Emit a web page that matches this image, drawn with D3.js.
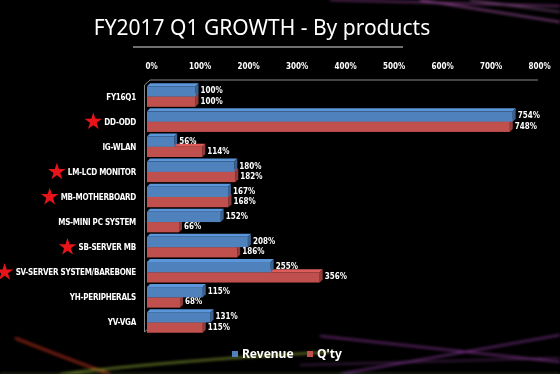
<!DOCTYPE html>
<html>
<head>
<meta charset="utf-8">
<script src="https://cdn.jsdelivr.net/npm/d3@7"></script>
<style>
  html, body { margin: 0; padding: 0; background: #000; }
  svg { display: block; }
</style>
</head>
<body>
<div id="chart"></div>
<script>
(function(){
    'use strict';

    // chart data
    var categories = ["FY16Q1", "DD-ODD", "IG-WLAN", "LM-LCD MONITOR", "MB-MOTHERBOARD",
        "MS-MINI PC SYSTEM", "SB-SERVER MB", "SV-SERVER SYSTEM/BAREBONE", "YH-PERIPHERALS", "YV-VGA"];
    var revenue = [100, 754, 56, 180, 167, 152, 208, 255, 115, 131];
    var qty = [100, 748, 114, 182, 168, 66, 186, 356, 68, 115];
    var starred = ["DD-ODD", "LM-LCD MONITOR", "MB-MOTHERBOARD", "SB-SERVER MB", "SV-SERVER SYSTEM/BAREBONE"];
    var tickValues = [0, 100, 200, 300, 400, 500, 600, 700, 800];
    var seriesNames = ["Revenue", "Q'ty"];

    var width = 560, height = 374;
    var blue = "#4f81bd", red = "#c0504d";
    var depth = 3;
    var labelFont = "'DejaVu Sans Condensed', 'DejaVu Sans', sans-serif";

    var svg = d3.select("#chart").append("svg")
        .attr("width", width)
        .attr("height", height);

    var defs = svg.append("defs");
    defs.append("filter").attr("id", "glow")
        .attr("x", "-20%").attr("y", "-50%").attr("width", "140%").attr("height", "200%")
        .append("feGaussianBlur").attr("stdDeviation", 1.6);

    svg.append("rect").attr("width", width).attr("height", height).attr("fill", "#000");

    // background light streaks
    var bg = svg.append("g").attr("filter", "url(#glow)");
    var streaks = [
        {d: "M330,0 L560,6", c: "#b04fb0", w: 1.5, o: 0.7},
        {d: "M420,0 L560,22", c: "#c060c0", w: 1.5, o: 0.8},
        {d: "M470,0 L560,12", c: "#d080d0", w: 1, o: 0.8},
        {d: "M320,336 L560,362", c: "#a040b0", w: 1.5, o: 0.8},
        {d: "M340,374 L560,335", c: "#9a3fb0", w: 1.5, o: 0.8},
        {d: "M300,365 L560,358", c: "#b050c0", w: 1, o: 0.6},
        {d: "M15,338 Q70,360 110,374", c: "#c03020", w: 2.5, o: 0.7},
        {d: "M60,374 Q180,360 330,352", c: "#b0d040", w: 1.5, o: 0.8},
        {d: "M0,374 L560,374", c: "#506030", w: 2, o: 0.5}
    ];
    bg.selectAll("path").data(streaks).enter().append("path")
        .attr("d", function(s) { return s.d; })
        .attr("fill", "none")
        .attr("stroke", function(s) { return s.c; })
        .attr("stroke-width", function(s) { return s.w; })
        .attr("opacity", function(s) { return s.o; });

    // title
    svg.append("text")
        .attr("x", 262).attr("y", 35)
        .attr("text-anchor", "middle")
        .attr("fill", "#fff")
        .style("font-family", "'Noto Sans', 'Open Sans', sans-serif")
        .style("font-size", "21px")
        .text("FY2017 Q1 GROWTH - By products");
    svg.append("line")
        .attr("x1", 133).attr("x2", 403).attr("y1", 47).attr("y2", 47)
        .attr("stroke", "#ddd").attr("stroke-width", 1);

    // scales
    var x = d3.scaleLinear().domain([0, 800]).range([147, 535]);
    var y = d3.scaleBand().domain(categories).range([85, 334]).paddingInner(0.18).paddingOuter(0.05);
    var sub = d3.scaleBand().domain(seriesNames).range([0, y.bandwidth()]);

    // frame (3D wall edges)
    var frame = svg.append("g").attr("stroke", "#888").attr("fill", "none").attr("stroke-width", 1);
    frame.append("path").attr("d", "M144.5,85 L150,80 L538,80");
    frame.append("path").attr("d", "M144.5,85 L144.5,332 L150,327");

    // top axis
    var axis = svg.append("g")
        .attr("transform", "translate(4,72)")
        .call(d3.axisTop(x).tickValues(tickValues).tickSize(0).tickFormat(function(d) { return d + "%"; }));
    axis.select(".domain").remove();
    axis.selectAll("text")
        .attr("fill", "#fff")
        .style("font-family", labelFont)
        .style("font-weight", "bold")
        .style("font-size", "8px");

    // category labels
    var labels = svg.append("g").selectAll("g.cat").data(categories).enter().append("g")
        .attr("class", "cat")
        .attr("transform", function(d) { return "translate(136," + (y(d) + y.bandwidth() / 2 + 3) + ")"; });
    labels.append("text")
        .attr("text-anchor", "end")
        .attr("fill", "#fff")
        .style("font-family", labelFont)
        .style("font-weight", "bold")
        .style("font-size", "8px")
        .style("letter-spacing", "-0.25px")
        .text(function(d) { return d; });

    var star = d3.symbol().type(d3.symbolStar).size(95);
    labels.filter(function(d) { return starred.indexOf(d) >= 0; })
        .each(function() {
            var g = d3.select(this);
            var w = g.select("text").node().getComputedTextLength();
            g.append("path")
                .attr("d", star())
                .attr("fill", "#e8141a")
                .attr("transform", "translate(" + (-w - 11) + ",-3)");
        });

    // bars
    var rows = categories.map(function(c, i) {
        return {cat: c, vals: [
            {name: seriesNames[0], v: revenue[i], color: blue},
            {name: seriesNames[1], v: qty[i], color: red}
        ]};
    });

    function shade(c, k) { return d3.color(c).darker(k).toString(); }

    var groups = svg.append("g").selectAll("g.row").data(rows).enter().append("g")
        .attr("class", "row")
        .attr("transform", function(d) { return "translate(0," + y(d.cat) + ")"; });

    // draw the red bar first so the blue front face sits on its top face
    [1, 0].forEach(function(k) {
        groups.each(function(d) {
            var s = d.vals[k];
            var g = d3.select(this);
            var x0 = x(0), x1 = x(s.v), y0 = sub(s.name), h = sub.bandwidth();
            g.append("path")
                .attr("d", "M" + x0 + "," + y0 + "L" + (x0 + depth) + "," + (y0 - depth) +
                    "L" + (x1 + depth) + "," + (y0 - depth) + "L" + x1 + "," + y0 + "Z")
                .attr("fill", d3.color(s.color).brighter(0.4));
            g.append("path")
                .attr("d", "M" + x1 + "," + y0 + "L" + (x1 + depth) + "," + (y0 - depth) +
                    "L" + (x1 + depth) + "," + (y0 + h - depth) + "L" + x1 + "," + (y0 + h) + "Z")
                .attr("fill", shade(s.color, 0.8));
            g.append("rect")
                .attr("x", x0).attr("y", y0)
                .attr("width", x1 - x0).attr("height", h)
                .attr("fill", s.color);
            g.append("text")
                .attr("x", x1 + depth + 2)
                .attr("y", y0 + h / 2 + 2)
                .attr("fill", "#fff")
                .style("font-family", labelFont)
                .style("font-weight", "bold")
                .style("font-size", "8px")
                .text(s.v + "%");
        });
    });

    // legend
    var legend = svg.append("g").attr("transform", "translate(232,354)");
    var items = legend.selectAll("g").data(seriesNames).enter().append("g")
        .attr("transform", function(d, i) { return "translate(" + (i * 75) + ",0)"; });
    items.append("rect")
        .attr("x", 0).attr("y", -3).attr("width", 6).attr("height", 6)
        .attr("fill", function(d, i) { return i === 0 ? blue : red; });
    items.append("text")
        .attr("x", 10).attr("y", 4)
        .attr("fill", "#fff")
        .style("font-family", "'Noto Sans', sans-serif")
        .style("font-weight", "bold")
        .style("font-size", "12px")
        .text(function(d) { return d; });
})()
</script>
</body>
</html>
